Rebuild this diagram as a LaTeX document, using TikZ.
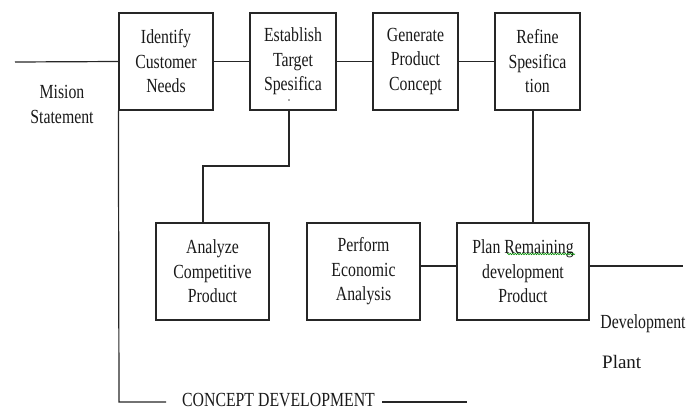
\documentclass[tikz,border=0pt]{standalone}
\usepackage{fontspec}
\setmainfont{Liberation Serif}[FakeStretch=0.79]
\newfontfamily\plainserif{Liberation Serif}
\usetikzlibrary{decorations.pathmorphing}
\begin{document}
\begin{tikzpicture}[x=1pt,y=-1pt,
  line/.style={draw=black!85, line width=1.2pt},
  box/.style={line, align=center, inner sep=0pt, minimum height=97pt,
    text=black!90, font=\fontsize{20}{24.5}\selectfont},
  lbl/.style={text=black!90, inner sep=0pt, font=\fontsize{20}{24}\selectfont}]
\useasboundingbox (0,0) rectangle (688,412);

% top row
\node[box, minimum width=94pt] (id) at (166,61.5) {Identify\\Customer\\Needs};
\node[box, minimum width=86pt] (es) at (293,61.5) {Establish\\Target\\Spesifica};
\node[box, minimum width=85pt] (ge) at (415.5,61.5) {Generate\\Product\\Concept};
\node[box, minimum width=85pt] (re) at (537.5,61.5) {Refine\\Spesifica\\tion};

% bottom row
\node[box, minimum width=113pt] (an) at (212.5,271.5) {Analyze\\Competitive\\Product};
\node[box, minimum width=113pt] (pe) at (363.5,271.5) {Perform\\Economic\\Analysis};
\node[box, minimum width=132pt] (pl) at (523,271.5) {Plan Remaining\\development\\Product};

% labels
\node[lbl, anchor=base] (ms1) at (62,98) {Mision};
\node[lbl, anchor=base] (ms2) at (62,123) {Statement};
\node[lbl, anchor=base] (dev) at (643,328) {Development};
\node[lbl, anchor=base west, font=\plainserif\fontsize{19}{24}\selectfont] (plant) at (602,368) {Plant};
\node[lbl, anchor=base] (cd) at (278.5,406) {CONCEPT DEVELOPMENT};

% coordinates
\coordinate (msin) at (15,62);
\coordinate (out) at (683,266);
\coordinate (j) at (203,166);
\coordinate (bl) at (119,402);
\coordinate (bl2) at (166,402);
\coordinate (br1) at (382,402);
\coordinate (br2) at (467,402);

% connectors
\draw[line] (msin) -- (id.west);
\draw[line] (id.east) -- (es.west);
\draw[line] (es.east) -- (ge.west);
\draw[line] (ge.east) -- (re.west);
\draw[line] ([xshift=-4pt]es.south) |- (j) -- (j |- an.north);
\draw[line] ([xshift=-4.5pt]re.south) -- ([xshift=10pt]pl.north);
\draw[line] ([yshift=5.5pt]pe.east) -- ([yshift=5.5pt]pl.west);
\draw[line] ([yshift=5.5pt]pl.east) -- (out);
\draw[line] (id.south west) -- (bl) -- (bl2);
\draw[line] (br1) -- (br2);

% small mark and spell-check underline
\fill[black!70] (289,100) circle (0.8pt);
\draw[green!55!black, line width=0.6pt, decorate,
  decoration={snake, amplitude=0.7pt, segment length=2.5pt}] (507,254) -- (575,254);
\end{tikzpicture}
\end{document}
